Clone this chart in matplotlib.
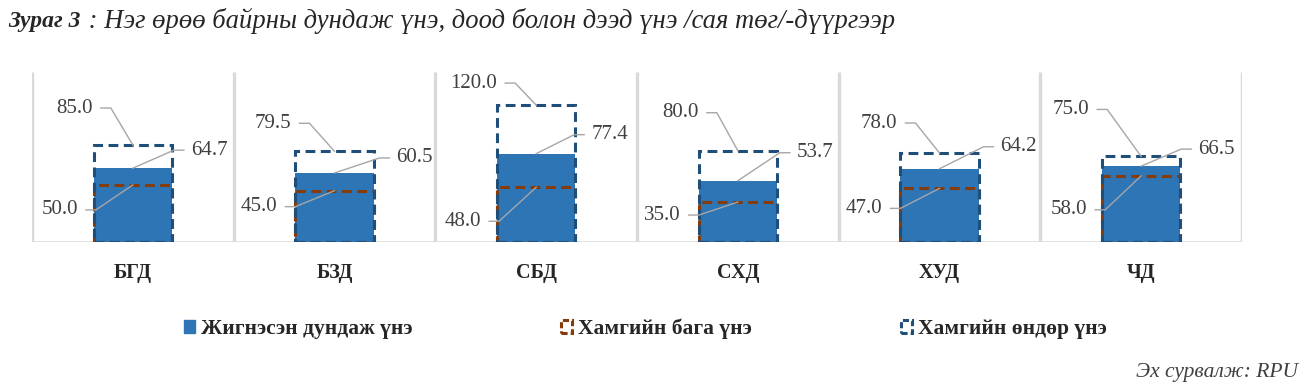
import matplotlib
matplotlib.use("Agg")
import matplotlib.pyplot as plt
from matplotlib.lines import Line2D
from matplotlib.patches import Patch
from matplotlib.transforms import IdentityTransform

# --- data ---
districts = ["БГД", "БЗД", "СБД", "СХД", "ХУД", "ЧД"]
avg_price = [64.7, 60.5, 77.4, 53.7, 64.2, 66.5]
min_price = [50.0, 45.0, 48.0, 35.0, 47.0, 58.0]
max_price = [85.0, 79.5, 120.0, 80.0, 78.0, 75.0]

series_names = ["Жигнэсэн дундаж үнэ", "Хамгийн бага үнэ", "Хамгийн өндөр үнэ"]

# --- label placement (pixel offsets from the bar centre / value point) ---
max_off = [(-40, 37), (-43, 28), (-39, 22), (-39, 38), (-42, 30), (-52, 47)]
avg_off = [(58, 18), (62, 15), (55, 19), (59, 28), (61, 22), (57, 17)]
min_off = [(-55, -25), (-57, -16), (-55, -34), (-57, -13), (-57, -20), (-54, -34)]

# --- colours ---
C_AVG = "#2E75B6"
C_MIN = "#843C0C"
C_MAX = "#1F4E79"
C_GRID = "#D9D9D9"
C_LEAD = "#A6A6A6"
C_TXT = "#404040"

SERIF = ["Liberation Serif", "DejaVu Serif"]
plt.rcParams['font.family'] = SERIF

fig = plt.figure(figsize=(13.06, 3.89), dpi=100)
W, H = 1306, 389
ax = fig.add_axes([32 / W, 1 - 242 / H, (1242 - 32) / W, (242 - 72) / H])
ax.set_xlim(0, len(districts))
ax.set_ylim(0, 149)
ax.axis('off')

# panel separators and baseline
for i in range(len(districts) + 1):
    ax.plot([i, i], [0, 149], color=C_GRID, lw=2.4, solid_capstyle='butt', zorder=1)
ax.plot([0, len(districts)], [0, 0], color=C_GRID, lw=1.8, zorder=1)

xs = [i + 0.5 for i in range(len(districts))]
bw = 0.39
dash = (0, (3.2, 1.8))

ax.bar(xs, avg_price, width=bw, color=C_AVG, zorder=2)
ax.bar(xs, min_price, width=bw, facecolor='none', edgecolor=C_MIN, lw=2.2,
       linestyle=dash, zorder=3)
ax.bar(xs, max_price, width=bw, facecolor='none', edgecolor=C_MAX, lw=2.2,
       linestyle=dash, zorder=4)

for i, name in enumerate(districts):
    ax.text(xs[i], -27, name, ha='center', va='center', fontsize=14.5,
            fontweight='bold', color='#262626')


def leader_label(x, y, dx, dy, value, side):
    # label with a short horizontal stub and a slanted line to the point
    px, py = ax.transData.transform((x, y))
    tx = px + dx
    if side == 'left':
        s0, s1 = tx + 8, tx + 18
        ha = 'right'
    else:
        s0, s1 = tx - 7, tx - 17
        ha = 'left'
    ty = py + dy
    fig.add_artist(Line2D([s0, s1, px], [ty, ty, py], color=C_LEAD, lw=1.0,
                          transform=IdentityTransform(), zorder=6))
    fig.text(tx / W, ty / H, f"{value:.1f}", ha=ha, va='center', fontsize=15,
             color=C_TXT)


for i in range(len(districts)):
    leader_label(xs[i], max_price[i], *max_off[i], max_price[i], 'left')
    leader_label(xs[i], avg_price[i], *avg_off[i], avg_price[i], 'right')
    leader_label(xs[i], min_price[i], *min_off[i], min_price[i], 'left')

# title in two parts
t1 = fig.text(8 / W, 1 - 21 / H, "Зураг 3", fontsize=17, fontweight='bold',
              fontstyle='italic', va='center', ha='left', color='#262626')
fig.canvas.draw()
bb = t1.get_window_extent(fig.canvas.get_renderer())
fig.text((bb.x1 + 1) / W, 1 - 21 / H,
         " : Нэг өрөө байрны дундаж үнэ, доод болон дээд үнэ /сая төг/-дүүргээр",
         fontsize=19.2, fontstyle='italic', va='center', ha='left', color='#262626')

# legend
handles = [
    Patch(facecolor=C_AVG, edgecolor=C_AVG),
    Patch(facecolor='none', edgecolor=C_MIN, lw=2.2, linestyle=(0, (2, 1))),
    Patch(facecolor='none', edgecolor=C_MAX, lw=2.2, linestyle=(0, (2, 1))),
]
leg = fig.legend(handles, series_names, loc='center left',
                 bbox_to_anchor=(184 / W, 1 - 329 / H), ncol=3, frameon=False,
                 handlelength=0.5, handleheight=0.5, handletextpad=0.3,
                 columnspacing=6.9, borderpad=0, borderaxespad=0,
                 prop={'family': SERIF, 'weight': 'bold', 'size': 15.5})
for t in leg.get_texts():
    t.set_color('#262626')

fig.text(1298 / W, 1 - 372 / H, "Эх сурвалж: RPU", ha='right', va='center',
         fontsize=15.5, fontstyle='italic', color='#404040')

fig.savefig("out.png", dpi=100)
